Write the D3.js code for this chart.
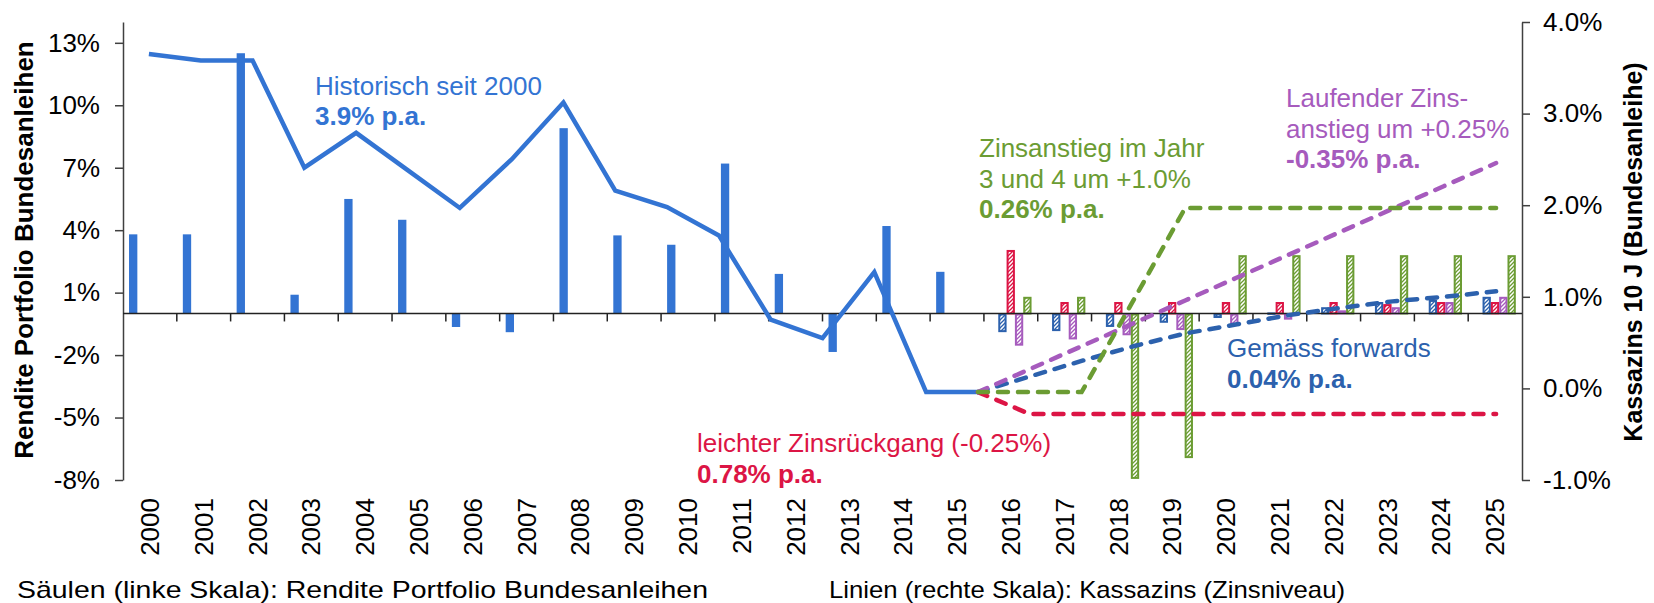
<!DOCTYPE html>
<html><head><meta charset="utf-8">
<script src="https://cdn.jsdelivr.net/npm/d3@7"></script>
<style>
body{margin:0;background:#fff}
svg{display:block;font-family:"Liberation Sans",Arial,sans-serif}
</style>
</head><body>
<svg id="chart" width="1654" height="603"></svg>
<script>
// ---------- DATA ----------
const years = ["2000","2001","2002","2003","2004","2005","2006","2007","2008","2009","2010","2011","2012",
               "2013","2014","2015","2016","2017","2018","2019","2020","2021","2022","2023","2024","2025"];
const histYears = years.slice(0, 16);
const futureYears = years.slice(16);

// bars (left scale, %)
const histReturns     = [3.8, 3.8, 12.5, 0.9, 5.5, 4.5, -0.65, -0.9, 8.9, 3.75, 3.3, 7.2, 1.9, -1.85, 4.2, 2.0];
const forwardsReturns = [-0.85, -0.8, -0.6, -0.4, -0.17, 0.05, 0.3, 0.55, 0.65, 0.8];
const declineReturns  = [3.05, 0.55, 0.55, 0.55, 0.55, 0.55, 0.55, 0.45, 0.55, 0.55];
const riseReturns     = [-1.5, -1.2, -1.0, -0.75, -0.5, -0.25, 0.15, 0.3, 0.55, 0.8];
const jumpReturns     = [0.8, 0.8, -7.9, -6.9, 2.8, 2.8, 2.8, 2.8, 2.8, 2.8];

// lines (right scale, %), on a 27-slot secondary category axis
const lineSlots = d3.range(27);
const histRate     = [3.65, 3.58, 3.58, 2.41, 2.79, 2.38, 1.97, 2.5, 3.12, 2.16, 1.98, 1.67, 0.75, 0.55, 1.27, -0.04, -0.04]; // slots 0..16
const forwardsRate = [-0.04, 0.13, 0.3, 0.46, 0.6, 0.7, 0.8, 0.88, 0.95, 1.0, 1.06];   // slots 16..26
const declineRate  = [-0.04, -0.28, -0.28, -0.28, -0.28, -0.28, -0.28, -0.28, -0.28, -0.28, -0.28];
const riseRate     = [-0.04, 0.21, 0.46, 0.71, 0.96, 1.21, 1.46, 1.71, 1.96, 2.21, 2.46];
const jumpRate     = [-0.04, -0.04, -0.04, 0.96, 1.97, 1.97, 1.97, 1.97, 1.97, 1.97, 1.97];
const projStartSlot = 16;

const leftTicks  = [-8, -5, -2, 1, 4, 7, 10, 13];
const rightTicks = [-1, 0, 1, 2, 3, 4];

const seriesKeys = ["hist", "forwards", "decline", "rise", "jump"];
const colors = {hist:"#3374d3", forwards:"#2c61ad", decline:"#dc1545", rise:"#a65bbd", jump:"#6b9c33"};

// ---------- SETUP ----------
const svg = d3.select("#chart");
const W = 1654, H = 603;
const plotL = 123, plotR = 1522, plotT = 22, plotB = 480;

const yL = d3.scaleLinear().domain([-8, 14]).range([plotB, plotT]);
const yR = d3.scaleLinear().domain([-1, 4]).range([plotB, plotT]);
const x0 = d3.scaleBand().domain(years).range([plotL, plotR]);
const bw = x0.bandwidth();
const x1 = d3.scaleBand().domain(seriesKeys).range([bw * 0.112, bw * 0.885]);
const xs = d3.scaleBand().domain(lineSlots).range([plotL, plotR]);
const xl = i => xs(i) + xs.bandwidth() / 2;

// hatch patterns
const defs = svg.append("defs");
["forwards","decline","rise","jump"].forEach(k => {
  const p = defs.append("pattern").attr("id", "hatch-" + k)
    .attr("patternUnits", "userSpaceOnUse").attr("width", 4).attr("height", 4);
  p.append("rect").attr("width", 4).attr("height", 4).attr("fill", "#fff");
  p.append("path").attr("d", "M-1,1 l2,-2 M0,4 l4,-4 M3,5 l2,-2")
    .attr("stroke", colors[k]).attr("stroke-width", 1.3);
});

// ---------- BARS ----------
const barData = [];
histYears.forEach((y, i) => barData.push({year: y, key: "hist", v: histReturns[i]}));
futureYears.forEach((y, i) => {
  barData.push({year: y, key: "forwards", v: forwardsReturns[i]});
  barData.push({year: y, key: "decline", v: declineReturns[i]});
  barData.push({year: y, key: "rise", v: riseReturns[i]});
  barData.push({year: y, key: "jump", v: jumpReturns[i]});
});

const gBars = svg.append("g");
gBars.selectAll("rect").data(barData).join("rect")
  .each(function(d) {
    const r = d3.select(this);
    const x = x0(d.year) + x1(d.key), w = x1.bandwidth();
    const yTop = yL(Math.max(0, d.v)), yBot = yL(Math.min(0, d.v));
    if (d.key === "hist") {
      r.attr("x", x).attr("y", yTop).attr("width", w).attr("height", Math.max(0, yBot - yTop))
       .attr("fill", colors.hist);
    } else {
      r.attr("x", x + 1).attr("y", yTop + 1).attr("width", w - 2).attr("height", Math.max(0.5, yBot - yTop - 1))
       .attr("fill", "url(#hatch-" + d.key + ")").attr("stroke", colors[d.key]).attr("stroke-width", 2);
    }
  });

// ---------- AXES ----------
const axL = d3.axisLeft(yL).tickValues(leftTicks).tickFormat(d => d + "%").tickSize(8).tickSizeOuter(0).tickPadding(15);
const gL = svg.append("g").attr("transform", `translate(${plotL},0)`).call(axL);
const axR = d3.axisRight(yR).tickValues(rightTicks).tickFormat(d => d.toFixed(1) + "%").tickSize(8).tickSizeOuter(0).tickPadding(13);
const gR = svg.append("g").attr("transform", `translate(${plotR},0)`).call(axR);
[gL, gR].forEach(g => {
  g.selectAll("path.domain").attr("stroke", "#404040").attr("stroke-width", 1.5);
  g.selectAll(".tick line").attr("stroke", "#404040").attr("stroke-width", 1.5);
  g.selectAll(".tick text").attr("font-size", 26).attr("fill", "#000")
    .attr("font-family", "'Liberation Sans',Arial,sans-serif");
});

// category axis at zero of left scale
const zeroY = yL(0);
svg.append("line").attr("x1", plotL).attr("x2", plotR).attr("y1", zeroY).attr("y2", zeroY)
  .attr("stroke", "#222").attr("stroke-width", 1.5);
svg.append("g").selectAll("line").data(years.slice(1)).join("line")
  .attr("x1", d => x0(d)).attr("x2", d => x0(d)).attr("y1", zeroY).attr("y2", zeroY + 8)
  .attr("stroke", "#222").attr("stroke-width", 1.5);

// year labels
svg.append("g").selectAll("text").data(years).join("text")
  .attr("transform", d => `translate(${x0(d) + bw / 2},498) rotate(-90)`)
  .attr("text-anchor", "end").attr("dy", "0.35em").attr("font-size", 26).attr("fill", "#000")
  .text(d => d);

// axis titles
svg.append("text").attr("transform", "translate(24,250) rotate(-90)")
  .attr("text-anchor", "middle").attr("dy", "0.35em").attr("font-size", 26).attr("font-weight", "bold")
  .text("Rendite Portfolio Bundesanleihen");
svg.append("text").attr("transform", "translate(1633,252) rotate(-90)")
  .attr("text-anchor", "middle").attr("dy", "0.35em").attr("font-size", 25).attr("font-weight", "bold")
  .text("Kassazins 10 J (Bundesanleihe)");

// ---------- LINES ----------
const line = d3.line().x(d => xl(d.i)).y(d => yR(d.v));
svg.append("path").datum(histRate.map((v, i) => ({i, v})))
  .attr("d", line).attr("fill", "none").attr("stroke", colors.hist).attr("stroke-width", 4.5);

const proj = [
  {key: "decline", vals: declineRate},
  {key: "forwards", vals: forwardsRate},
  {key: "rise", vals: riseRate},
  {key: "jump", vals: jumpRate}
];
proj.forEach(p => {
  svg.append("path").datum(p.vals.map((v, j) => ({i: projStartSlot + j, v})))
    .attr("d", line).attr("fill", "none").attr("stroke", colors[p.key]).attr("stroke-width", 4.5)
    .attr("stroke-linecap", "round").attr("stroke-dasharray", "10,10");
});

// ---------- ANNOTATIONS ----------
const notes = [
  {x: 315, y: 95, t: "Historisch seit 2000", b: false, c: colors.hist},
  {x: 315, y: 125, t: "3.9% p.a.", b: true, c: colors.hist},
  {x: 979, y: 157, t: "Zinsanstieg im Jahr", b: false, c: colors.jump},
  {x: 979, y: 188, t: "3 und 4 um +1.0%", b: false, c: colors.jump},
  {x: 979, y: 218, t: "0.26% p.a.", b: true, c: colors.jump},
  {x: 1286, y: 107, t: "Laufender Zins-", b: false, c: colors.rise},
  {x: 1286, y: 138, t: "anstieg um +0.25%", b: false, c: colors.rise},
  {x: 1286, y: 168, t: "-0.35% p.a.", b: true, c: colors.rise},
  {x: 697, y: 452, t: "leichter Zinsrückgang (-0.25%)", b: false, c: colors.decline},
  {x: 697, y: 483, t: "0.78% p.a.", b: true, c: colors.decline},
  {x: 1227, y: 357, t: "Gemäss forwards", b: false, c: colors.forwards},
  {x: 1227, y: 388, t: "0.04% p.a.", b: true, c: colors.forwards}
];
svg.append("g").selectAll("text").data(notes).join("text")
  .attr("x", d => d.x).attr("y", d => d.y).attr("font-size", 26)
  .attr("font-weight", d => d.b ? "bold" : "normal").attr("fill", d => d.c)
  .style("white-space", "pre").text(d => d.t);

// bottom legend texts
svg.append("text").attr("x", 17).attr("y", 598).attr("font-size", 24).attr("fill", "#000")
  .attr("textLength", 691).attr("lengthAdjust", "spacingAndGlyphs")
  .text("Säulen (linke Skala): Rendite Portfolio Bundesanleihen");
svg.append("text").attr("x", 829).attr("y", 598).attr("font-size", 24).attr("fill", "#000")
  .attr("textLength", 516).attr("lengthAdjust", "spacingAndGlyphs")
  .text("Linien (rechte Skala): Kassazins (Zinsniveau)");
</script>
</body></html>
